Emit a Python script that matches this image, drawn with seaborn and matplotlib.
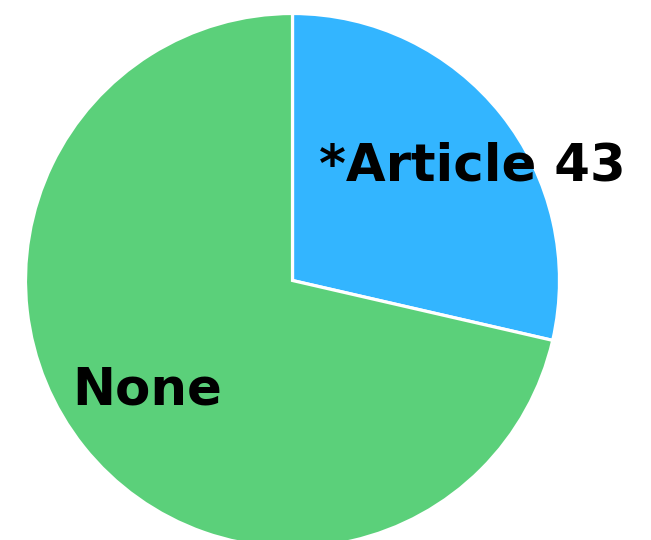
import matplotlib
matplotlib.use("Agg")
import matplotlib.pyplot as plt
import seaborn as sns

# Share of entries by legal basis
categories = ["*Article 43", "None"]
shares = [28.6, 71.4]
colors = ["#33B5FF", "#5BD07A"]

sns.set_style("white")
plt.rcParams["font.family"] = ["DejaVu Sans"]

fig = plt.figure(figsize=(6.51, 5.40), dpi=100)
# square axes whose unit radius spans 267 px; the bottom runs slightly off the canvas
ax = fig.add_axes([25.5 / 651, -7.5 / 540, 534 / 651, 534 / 540])

wedges, texts = ax.pie(
    shares,
    labels=categories,
    colors=colors,
    startangle=90,
    counterclock=False,
    radius=1.0,
    wedgeprops=dict(edgecolor="white", linewidth=2.3),
    textprops=dict(fontsize=37, fontweight="bold", color="black"),
)

label_pos = {"*Article 43": (0.674, 0.376), "None": (-0.543, -0.464)}
for t in texts:
    t.set_position(label_pos[t.get_text()])
    t.set_ha("center")
    t.set_va("baseline")

ax.set_xlim(-1, 1)
ax.set_ylim(-1, 1)
ax.set_aspect("equal")
ax.axis("off")

fig.savefig("out.png", dpi=100)
